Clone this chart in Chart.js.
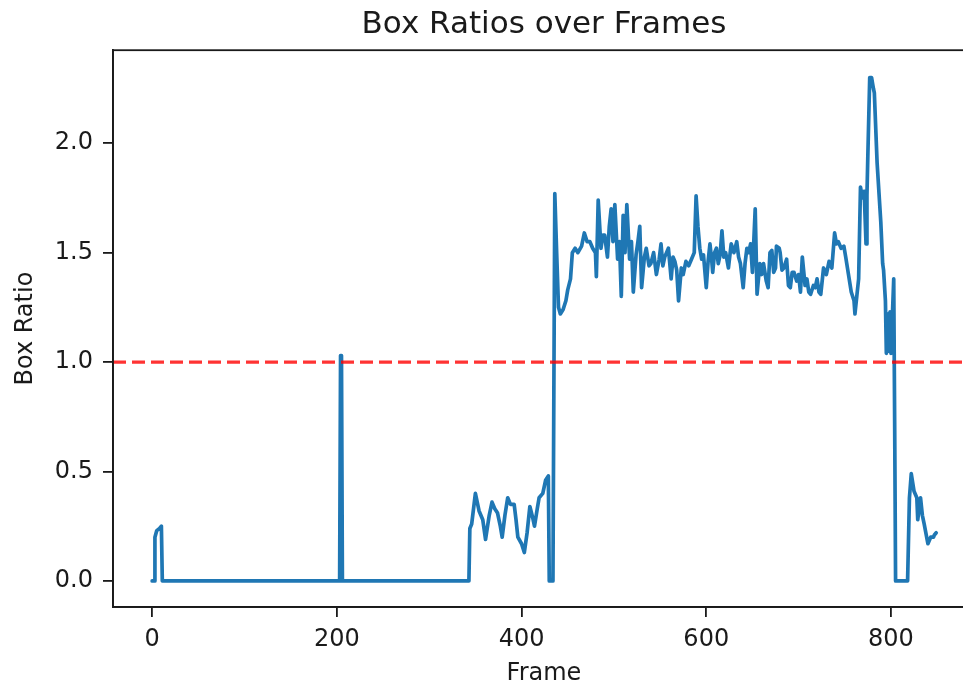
<!DOCTYPE html>
<html>
<head>
<meta charset="utf-8">
<script src="https://cdn.jsdelivr.net/npm/chart.js@4.4.1/dist/chart.umd.min.js"></script>
<style>
  html, body { margin: 0; padding: 0; background: #fff; overflow: hidden; }
  #wrap { width: 975px; height: 688px; }
</style>
</head>
<body>
<div id="wrap"><canvas id="boxChart" width="975" height="688"></canvas></div>
<script>
// frame numbers and box ratios
const frames = [
    0, 2, 3, 5, 8, 10, 11, 203, 204, 205, 206, 343, 344, 346, 350, 354, 358, 361, 365, 368,
    371, 374, 377, 379, 382, 385, 388, 392, 394, 396, 400, 403, 406, 409, 412, 414, 417, 419, 423, 426,
    429, 430, 434, 436, 438, 440, 442, 445, 448, 450, 453, 455, 458, 461, 465, 468, 471, 474, 477, 480,
    481, 483, 486, 488, 490, 493, 495, 497, 499, 501, 504, 506, 508, 510, 512, 514, 517, 519, 521, 524,
    526, 528, 530, 533, 535, 538, 540, 543, 546, 549, 551, 553, 555, 557, 559, 562, 564, 566, 568, 570,
    573, 575, 578, 581, 584, 587, 589, 591, 593, 595, 597, 600, 602, 604, 606, 607, 609, 611, 613, 615,
    617, 619, 621, 624, 627, 630, 633, 635, 637, 640, 642, 644, 646, 648, 650, 653, 655, 658, 660, 662,
    665, 667, 669, 671, 673, 675, 676, 679, 680, 682, 684, 687, 689, 691, 693, 695, 698, 700, 702, 704,
    707, 709, 711, 713, 716, 718, 720, 722, 724, 727, 730, 733, 736, 739, 741, 743, 746, 749, 751, 754,
    757, 760, 761, 763, 765, 767, 769, 771, 773, 774, 775, 777, 779, 781, 782, 785, 789, 791, 792, 794,
    795, 796, 797, 798, 799, 800, 801, 803, 804, 805, 818, 820, 822, 825, 828, 829, 832, 834, 836, 840,
    843, 846, 847, 849
];
const ratios = [
    0, 0, 0.20, 0.23, 0.24, 0.25, 0, 0, 1.03, 1.03, 0, 0, 0.24, 0.26, 0.40, 0.32, 0.28, 0.19, 0.30, 0.36,
    0.33, 0.31, 0.25, 0.20, 0.30, 0.38, 0.35, 0.35, 0.28, 0.20, 0.17, 0.13, 0.22, 0.34, 0.29, 0.25, 0.33, 0.38, 0.40, 0.46,
    0.48, 0, 0, 1.77, 1.50, 1.25, 1.22, 1.24, 1.28, 1.33, 1.38, 1.50, 1.52, 1.50, 1.53, 1.59, 1.55, 1.55, 1.52, 1.50,
    1.39, 1.74, 1.52, 1.58, 1.58, 1.48, 1.62, 1.70, 1.55, 1.72, 1.47, 1.55, 1.30, 1.67, 1.50, 1.72, 1.47, 1.55, 1.32, 1.49,
    1.55, 1.62, 1.34, 1.48, 1.52, 1.44, 1.45, 1.50, 1.40, 1.47, 1.54, 1.44, 1.48, 1.50, 1.52, 1.38, 1.48, 1.46, 1.42, 1.28,
    1.43, 1.40, 1.46, 1.44, 1.47, 1.50, 1.76, 1.62, 1.52, 1.47, 1.49, 1.34, 1.46, 1.54, 1.46, 1.41, 1.50, 1.52, 1.45, 1.49,
    1.60, 1.48, 1.50, 1.43, 1.54, 1.50, 1.55, 1.48, 1.45, 1.34, 1.45, 1.52, 1.50, 1.54, 1.41, 1.70, 1.31, 1.45, 1.40, 1.45,
    1.37, 1.34, 1.50, 1.51, 1.41, 1.43, 1.53, 1.52, 1.50, 1.42, 1.43, 1.47, 1.35, 1.34, 1.41, 1.41, 1.37, 1.40, 1.32, 1.48,
    1.35, 1.38, 1.32, 1.31, 1.35, 1.34, 1.38, 1.32, 1.31, 1.43, 1.40, 1.46, 1.43, 1.59, 1.54, 1.55, 1.52, 1.53, 1.48, 1.40,
    1.32, 1.28, 1.22, 1.30, 1.38, 1.80, 1.75, 1.78, 1.54, 1.76, 1.95, 2.30, 2.30, 2.25, 2.23, 1.91, 1.64, 1.45, 1.42, 1.28,
    1.04, 1.15, 1.22, 1.05, 1.23, 1.04, 1.15, 1.38, 0.73, 0, 0, 0.38, 0.49, 0.41, 0.38, 0.28, 0.38, 0.30, 0.26, 0.17,
    0.20, 0.20, 0.21, 0.22
];
const threshold = 1.0;
const xRange = [-42.4, 891];
const yRange = [-0.119, 2.425];
const xTicks = [0, 200, 400, 600, 800];
const yTicks = [0, 0.5, 1.0, 1.5, 2.0];

const FONT = "'DejaVu Sans', sans-serif";
const INK = '#1a1a1a';

// matplotlib draws a full box round the axes
const frameBox = {
    id: 'frameBox',
    afterDraw(chart) {
        var a = chart.chartArea, ctx = chart.ctx;
        ctx.save();
        ctx.strokeStyle = INK;
        ctx.lineWidth = 1.8;
        ctx.strokeRect(a.left, a.top, a.right - a.left, a.bottom - a.top);
        ctx.restore();
    }
};

(function() {
    var el = document.getElementById('boxChart');
    new Chart(el.getContext('2d'), {
        type: 'line',
        data: {
            datasets: [
                {
                    label: 'threshold',
                    data: [{ x: xRange[0], y: threshold }, { x: xRange[1], y: threshold }],
                    borderColor: 'rgba(255,0,0,0.8)',
                    borderWidth: 3.4,
                    borderDash: [13, 6],
                    pointRadius: 0,
                    order: 0
                },
                {
                    label: 'Box Ratio',
                    data: frames.map(function(f, i) { return { x: f, y: ratios[i] }; }),
                    borderColor: '#1f77b4',
                    borderWidth: 3.7,
                    borderJoinStyle: 'round',
                    borderCapStyle: 'round',
                    pointRadius: 0,
                    tension: 0,
                    order: 1
                }
            ]
        },
        options: {
            responsive: false,
            animation: false,
            devicePixelRatio: 1,
            layout: { padding: 0 },
            plugins: {
                legend: { display: false },
                tooltip: { enabled: false },
                title: {
                    display: true,
                    fullSize: false,
                    text: 'Box Ratios over Frames',
                    color: INK,
                    font: { family: FONT, size: 31, weight: 'normal' },
                    padding: { top: 6, bottom: 7 }
                }
            },
            scales: {
                x: {
                    type: 'linear',
                    min: xRange[0], max: xRange[1],
                    afterBuildTicks: function(s) { s.ticks = xTicks.map(function(v) { return { value: v }; }); },
                    afterFit: function(s) { s.height = 81; },
                    grid: { drawOnChartArea: false, drawTicks: true, tickLength: 10, color: INK, lineWidth: 1.8 },
                    border: { display: true, color: INK, width: 1.8 },
                    ticks: { color: INK, font: { family: FONT, size: 24 }, padding: 8, maxRotation: 0 },
                    title: { display: true, text: 'Frame', color: INK, font: { family: FONT, size: 24 }, padding: { top: 0, bottom: 0 } }
                },
                y: {
                    type: 'linear',
                    min: yRange[0], max: yRange[1],
                    afterBuildTicks: function(s) { s.ticks = yTicks.map(function(v) { return { value: v }; }); },
                    afterFit: function(s) { s.width = 113; },
                    grid: { drawOnChartArea: false, drawTicks: true, tickLength: 10, color: INK, lineWidth: 1.8 },
                    border: { display: true, color: INK, width: 1.8 },
                    ticks: { color: INK, font: { family: FONT, size: 24 }, padding: 10, callback: function(v) { return v.toFixed(1); } },
                    title: { display: true, text: 'Box Ratio', color: INK, font: { family: FONT, size: 24 }, padding: { top: 11, bottom: 0 } }
                }
            }
        },
        plugins: [frameBox]
    });
})();
</script>
</body>
</html>
